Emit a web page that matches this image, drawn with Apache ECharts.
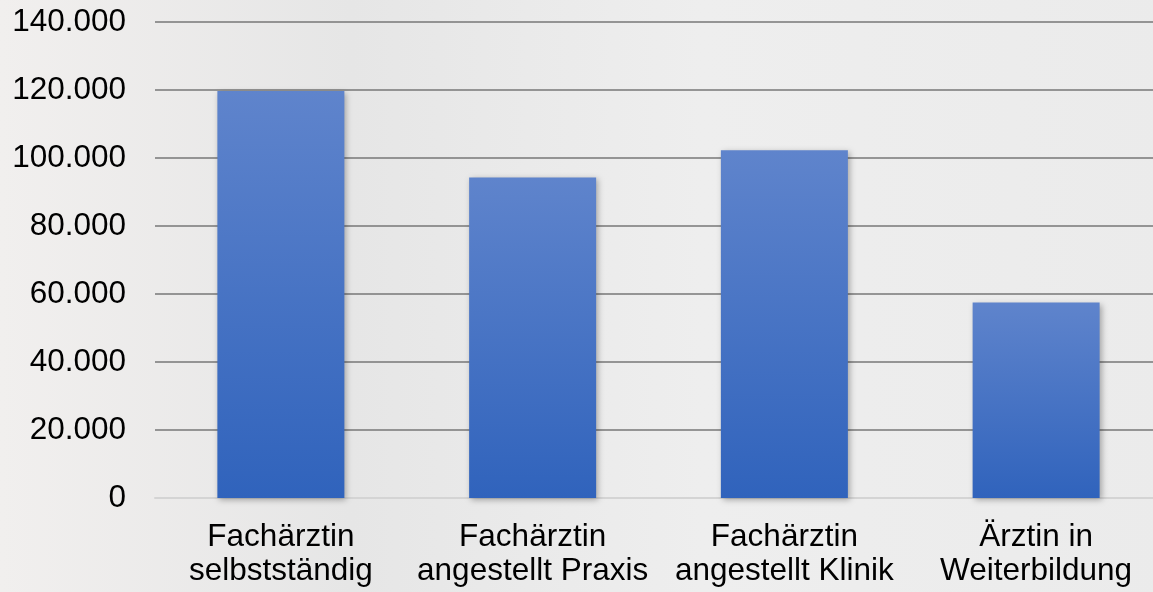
<!DOCTYPE html>
<html>
<head>
<meta charset="utf-8">
<script src="https://cdn.jsdelivr.net/npm/echarts@6/dist/echarts.min.js"></script>
<style>
html,body{margin:0;padding:0;background:#ececeb;overflow:hidden;width:1153px;height:592px;}
#chart{width:1170px;height:592px;}
</style>
</head>
<body>
<div id="chart"></div>
<script>
const categories = ['Fachärztin\nselbstständig', 'Fachärztin\nangestellt Praxis', 'Fachärztin\nangestellt Klinik', 'Ärztin in\nWeiterbildung'];
const values = [119700, 94300, 102300, 57500];
const yMin = 0, yMax = 140000, yStep = 20000;

const chart = echarts.init(document.getElementById('chart'));
chart.setOption({
  backgroundColor: {
    type: 'linear', x: 0, y: 0, x2: 1, y2: 0,
    colorStops: [
      {offset: 0, color: '#f1efee'},
      {offset: 0.3, color: '#e6e6e6'},
      {offset: 0.6, color: '#eeeeee'},
      {offset: 1, color: '#ebebeb'}
    ]
  },
  animation: false,
  grid: {left: 155, top: 22, width: 1007, height: 476, containLabel: false},
  xAxis: {
    type: 'category',
    data: categories,
    axisLine: {show: true, lineStyle: {color: '#d4d4d4', width: 2}},
    axisTick: {show: false},
    axisLabel: {
      color: '#000', fontFamily: 'Liberation Sans, Arial, sans-serif', fontSize: 31.5,
      lineHeight: 34, margin: 22, interval: 0
    }
  },
  yAxis: {
    type: 'value',
    min: yMin, max: yMax, interval: yStep,
    axisLine: {show: false},
    axisTick: {show: false},
    splitLine: {lineStyle: {color: '#777', width: 1.5}},
    axisLabel: {
      color: '#000', fontFamily: 'Liberation Sans, Arial, sans-serif', fontSize: 31.5,
      margin: 29,
      formatter: v => v.toString().replace(/\B(?=(\d{3})+(?!\d))/g, '.')
    }
  },
  series: [{
    type: 'bar',
    data: values,
    barWidth: 127,
    itemStyle: {
      color: {
        type: 'linear', x: 0, y: 0, x2: 0, y2: 1,
        colorStops: [{offset: 0, color: '#5f84cc'}, {offset: 1, color: '#3063bc'}]
      },
      shadowColor: 'rgba(0,0,0,0.3)', shadowBlur: 6, shadowOffsetX: 2, shadowOffsetY: 2
    }
  }]
});
</script>
</body>
</html>
